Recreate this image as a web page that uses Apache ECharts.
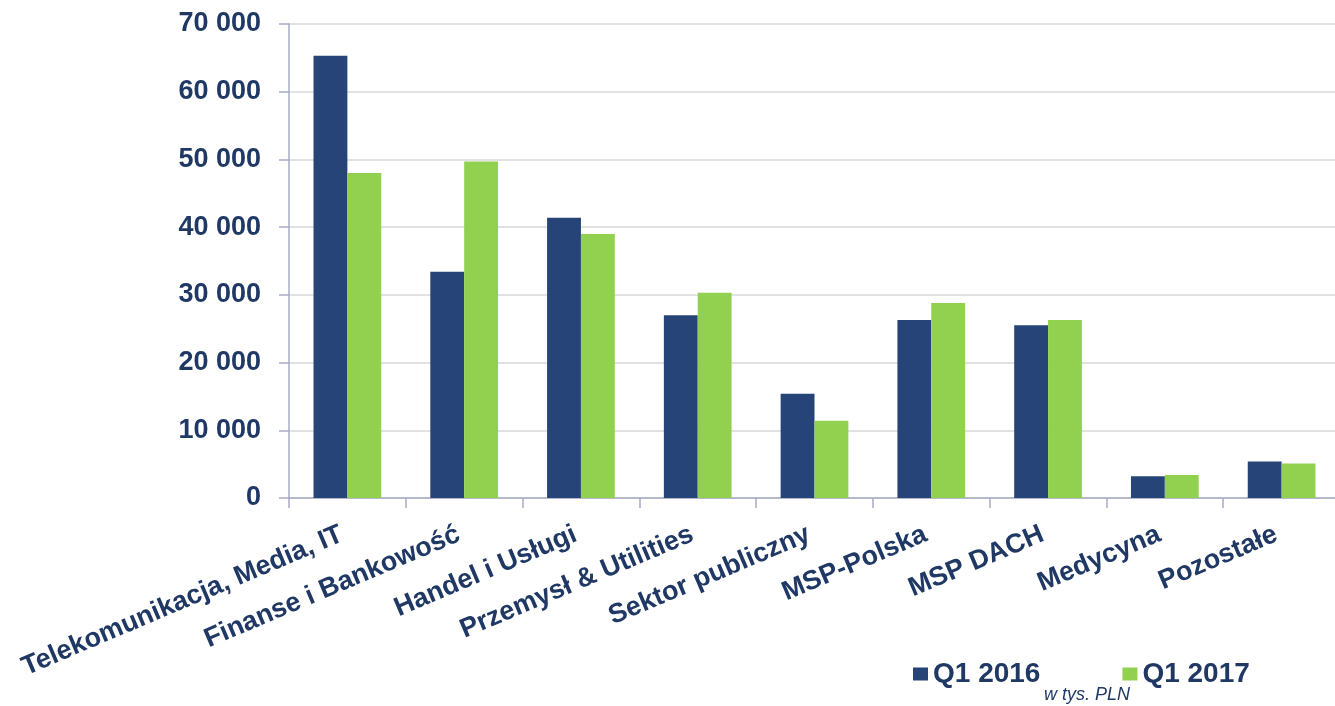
<!DOCTYPE html>
<html>
<head>
<meta charset="utf-8">
<script src="https://cdn.jsdelivr.net/npm/echarts@6/dist/echarts.min.js"></script>
<style>
html,body{margin:0;padding:0;background:#fff;overflow:hidden;width:1335px;height:706px;}
#c{width:1341px;height:706px;}
</style>
</head>
<body>
<div id="c"></div>
<script>
const categories = ["Telekomunikacja, Media, IT","Finanse i Bankowość","Handel i Usługi","Przemysł & Utilities","Sektor publiczny","MSP-Polska","MSP DACH","Medycyna","Pozostałe"];
const q12016 = [65300, 33400, 41400, 27000, 15400, 26300, 25500, 3200, 5400];
const q12017 = [48000, 49700, 39000, 30300, 11400, 28800, 26300, 3400, 5100];
const seriesNames = ["Q1 2016", "Q1 2017"];
const unitNote = "w tys. PLN";

const navy = '#1F3864';
const font = '"Liberation Sans", Arial, sans-serif';
const axisCol = '#A8ABC6';

const chart = echarts.init(document.getElementById('c'));
chart.setOption({
  animation: false,
  textStyle: { fontFamily: font },
  grid: { left: 289, top: 24, width: 1051, height: 474 },
  legend: {
    left: 908, top: 655,
    icon: 'rect', itemWidth: 15, itemHeight: 13, itemGap: 82,
    textStyle: { color: navy, fontSize: 28, fontWeight: 'bold', fontFamily: font },
    data: seriesNames
  },
  graphic: [{
    type: 'text', left: 1044, top: 686,
    style: { text: unitNote, fill: navy, fontSize: 18, fontStyle: 'italic', fontFamily: font }
  }],
  xAxis: {
    type: 'category',
    data: categories,
    axisLine: { lineStyle: { color: axisCol, width: 1.5 } },
    axisTick: { show: true, length: 10, lineStyle: { color: axisCol, width: 1.5 } },
    axisLabel: {
      interval: 0, rotate: 23, margin: 33,
      color: navy, fontSize: 27, fontWeight: 'bold', fontFamily: font,
      padding: [0, 6, 0, 0]
    }
  },
  yAxis: {
    type: 'value', min: 0, max: 70000, interval: 10000,
    axisLine: { show: true, lineStyle: { color: axisCol, width: 1.5 } },
    axisTick: { show: true, length: 10, lineStyle: { color: axisCol, width: 1.5 } },
    splitLine: { lineStyle: { color: '#D9D9D9', width: 1.5 } },
    axisLabel: {
      margin: 28, color: navy, fontSize: 27, fontWeight: 'bold', fontFamily: font,
      formatter: v => String(v).replace(/\B(?=(\d{3})+(?!\d))/g, ' ')
    }
  },
  series: [
    { name: seriesNames[0], type: 'bar', data: q12016, itemStyle: { color: '#264478' }, barGap: '0%', barCategoryGap: '42%' },
    { name: seriesNames[1], type: 'bar', data: q12017, itemStyle: { color: '#92D050' }, barGap: '0%', barCategoryGap: '42%' }
  ]
});
</script>
</body>
</html>
